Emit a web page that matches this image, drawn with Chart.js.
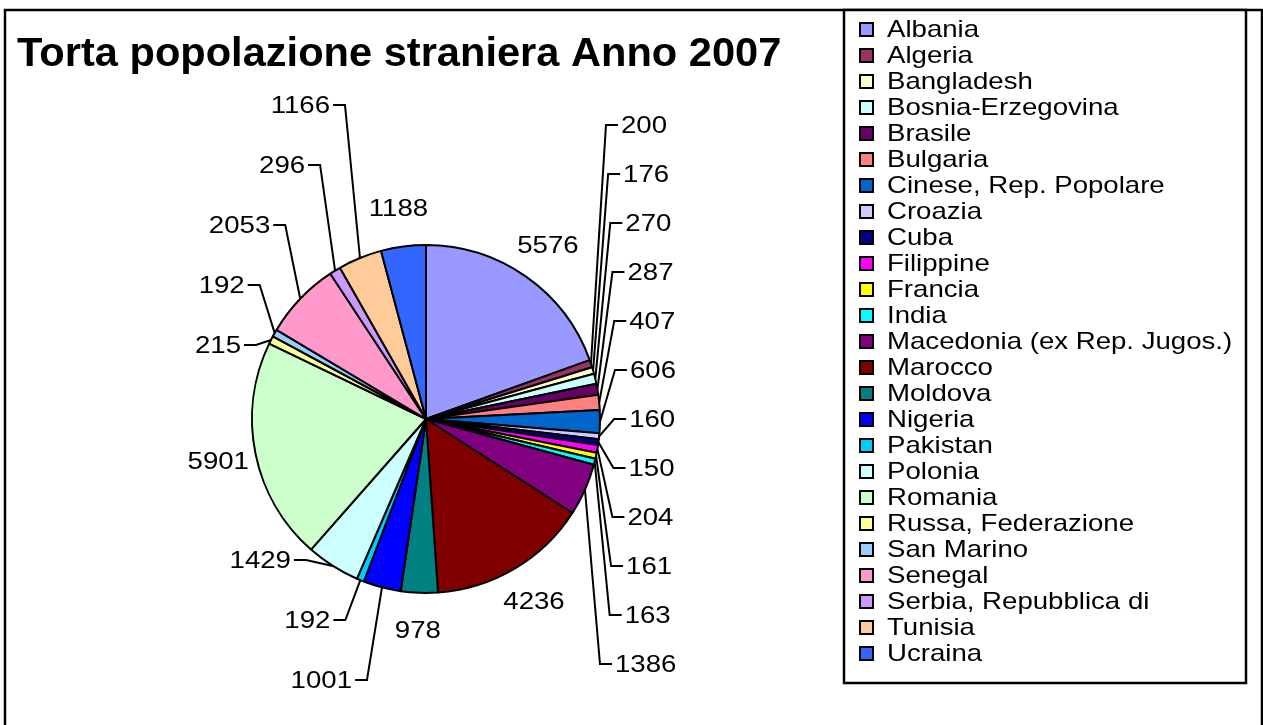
<!DOCTYPE html>
<html>
<head>
<meta charset="utf-8">
<script src="https://cdn.jsdelivr.net/npm/chart.js@4.4.0/dist/chart.umd.min.js"></script>
<style>
  html, body { margin: 0; padding: 0; background: #fff; overflow: hidden; }
  canvas { display: block; }
</style>
</head>
<body>
<canvas id="torta" width="1263" height="725"></canvas>
<script>
// dati
var titolo = "Torta popolazione straniera Anno 2007";
var paesi = ["Albania", "Algeria", "Bangladesh", "Bosnia-Erzegovina", "Brasile", "Bulgaria",
  "Cinese, Rep. Popolare", "Croazia", "Cuba", "Filippine", "Francia", "India",
  "Macedonia (ex Rep. Jugos.)", "Marocco", "Moldova", "Nigeria", "Pakistan", "Polonia",
  "Romania", "Russa, Federazione", "San Marino", "Senegal", "Serbia, Repubblica di",
  "Tunisia", "Ucraina"];
var residenti = [5576, 200, 176, 270, 287, 407, 606, 160, 150, 204, 161, 163,
  1386, 4236, 978, 1001, 192, 1429, 5901, 215, 192, 2053, 296, 1166, 1188];

// colori della tavolozza di Excel
var colori = ["#9999FF", "#993366", "#FFFFCC", "#CCFFFF", "#660066", "#FF8080",
  "#0066CC", "#CCCCFF", "#000080", "#FF00FF", "#FFFF00", "#00FFFF",
  "#800080", "#800000", "#008080", "#0000FF", "#00CCFF", "#CCFFFF",
  "#CCFFCC", "#FFFF99", "#99CCFF", "#FF99CC", "#CC99FF", "#FFCC99", "#3366FF"];

var FONT = '"Liberation Sans", Arial, sans-serif';
var LARGO = 1.15; // il testo di Excel è più largo

// testo allargato in orizzontale
function scrivi(ctx, testo, x, y, allinea, scala) {
  var w = ctx.measureText(testo).width * scala;
  var x0 = allinea === 'center' ? x - w / 2 : (allinea === 'right' ? x - w : x);
  ctx.save();
  ctx.translate(x0, y);
  ctx.scale(scala, 1);
  ctx.textAlign = 'left';
  ctx.fillText(testo, 0, 0);
  ctx.restore();
}

// sposta le etichette di una colonna perché non si sovrappongano
function distribuisci(lista, passo, yMin, yMax) {
  lista.sort(function(a, b) { return a.y - b.y; });
  for (var giro = 0; giro < 500; giro++) {
    var mosso = false;
    for (var k = 1; k < lista.length; k++) {
      var a = lista[k - 1], b = lista[k];
      var d = b.y - a.y;
      if (d < passo - 0.01) {
        var spinta = passo - d;
        if (a.fisso) b.y += spinta;
        else if (b.fisso) a.y -= spinta;
        else { a.y -= spinta / 2; b.y += spinta / 2; }
        mosso = true;
      }
    }
    lista.forEach(function(l) {
      if (!l.fisso) l.y = Math.min(yMax, Math.max(yMin, l.y));
    });
    if (!mosso) break;
  }
}

var cornice = {
  id: 'cornice',
  beforeDraw: function(chart) {
    var ctx = chart.ctx;
    ctx.save();
    ctx.fillStyle = '#fff';
    ctx.fillRect(0, 0, chart.width, chart.height);
    ctx.restore();
  },
  afterDraw: function(chart) {
    var ctx = chart.ctx;
    var archi = chart.getDatasetMeta(0).data;
    var cx = archi[0].x, cy = archi[0].y, r = archi[0].outerRadius;
    var totale = residenti.reduce(function(s, v) { return s + v; }, 0);

    ctx.save();

    // cornice esterna
    ctx.strokeStyle = '#000';
    ctx.lineWidth = 2.5;
    ctx.beginPath();
    ctx.moveTo(5, 725);
    ctx.lineTo(5, 10);
    ctx.lineTo(1262, 10);
    ctx.lineTo(1262, 725);
    ctx.stroke();

    // titolo
    ctx.fillStyle = '#000';
    ctx.font = 'bold 40px ' + FONT;
    ctx.textBaseline = 'alphabetic';
    scrivi(ctx, titolo, 17, 66, 'left', 1.04);

    // etichette dei valori
    ctx.font = '24px ' + FONT;
    var etichette = archi.map(function(a, i) {
      var mid = (a.startAngle + a.endAngle) / 2;
      var testo = String(residenti[i]);
      var grande = residenti[i] / totale >= 0.1;
      var R = r + 38, Rc = r + 110;
      var l = {
        testo: testo,
        w: ctx.measureText(testo).width * LARGO,
        ex: cx + r * Math.cos(mid), ey: cy + r * Math.sin(mid),
        nx: cx + R * Math.cos(mid), ny: cy + R * Math.sin(mid),
        lato: Math.cos(mid) >= 0 ? 1 : -1,
        cos: Math.cos(mid), sin: Math.sin(mid)
      };
      var inCima = l.sin < -0.95, inFondo = l.sin > 0.99;
      l.fisso = grande || inCima || inFondo;
      l.x = l.nx;
      l.y = l.fisso ? l.ny : cy + Rc * Math.sin(mid);
      return l;
    });

    var destra = etichette.filter(function(l) {
      return l.lato > 0 && (!l.fisso || Math.abs(l.cos) > 0.8);
    });
    var sinistra = etichette.filter(function(l) {
      return l.lato < 0 && (!l.fisso || Math.abs(l.cos) > 0.8);
    });
    distribuisci(destra, 49, 110, 664);
    distribuisci(sinistra, 60, 90, 680);

    // tieni le etichette fuori dalla torta e oltre il punto di attacco
    etichette.forEach(function(l) {
      if (l.fisso) return;
      var dy = Math.max(0, Math.abs(l.y - cy) - 9);
      var rr = r + 12;
      if (dy < rr) {
        var dx = Math.sqrt(rr * rr - dy * dy) + 4;
        if (l.lato > 0) l.x = Math.max(l.x, cx + dx + l.w / 2);
        else l.x = Math.min(l.x, cx - dx - l.w / 2);
      }
      if (l.lato > 0) l.x = Math.max(l.x, l.ex + 30 + l.w / 2);
      else l.x = Math.min(l.x, l.ex - 30 - l.w / 2);
    });

    // linee guida
    ctx.strokeStyle = '#000';
    ctx.lineWidth = 2;
    etichette.forEach(function(l) {
      if (Math.hypot(l.x - l.nx, l.y - l.ny) < 6) return;
      var bordo = l.lato > 0 ? l.x - l.w / 2 - 3 : l.x + l.w / 2 + 3;
      var gomito = bordo - l.lato * 12;
      ctx.beginPath();
      ctx.moveTo(l.ex, l.ey);
      ctx.lineTo(gomito, l.y);
      ctx.lineTo(bordo, l.y);
      ctx.stroke();
    });

    ctx.fillStyle = '#000';
    ctx.textBaseline = 'middle';
    etichette.forEach(function(l) {
      scrivi(ctx, l.testo, l.x, l.y + 1, 'center', LARGO);
    });

    // legenda
    ctx.fillStyle = '#fff';
    ctx.fillRect(844, 10, 402, 673);
    ctx.strokeStyle = '#000';
    ctx.lineWidth = 2.5;
    ctx.strokeRect(844, 10, 402, 673);
    ctx.textBaseline = 'alphabetic';
    ctx.lineWidth = 2;
    paesi.forEach(function(p, i) {
      var base = 37 + i * 26;
      ctx.fillStyle = colori[i];
      ctx.fillRect(860, base - 14, 13, 13);
      ctx.strokeRect(860, base - 14, 13, 13);
      ctx.fillStyle = '#000';
      scrivi(ctx, p, 887, base, 'left', LARGO);
    });

    ctx.restore();
  }
};

new Chart(document.getElementById('torta'), {
  type: 'pie',
  data: {
    labels: paesi,
    datasets: [{
      data: residenti,
      backgroundColor: colori,
      borderColor: '#000',
      borderWidth: 2
    }]
  },
  options: {
    responsive: false,
    animation: false,
    devicePixelRatio: 1,
    layout: { padding: { left: 251, right: 662, top: 244, bottom: 131 } },
    plugins: {
      legend: { display: false },
      tooltip: { enabled: false },
      title: { display: false }
    }
  },
  plugins: [cornice]
});
</script>
</body>
</html>
